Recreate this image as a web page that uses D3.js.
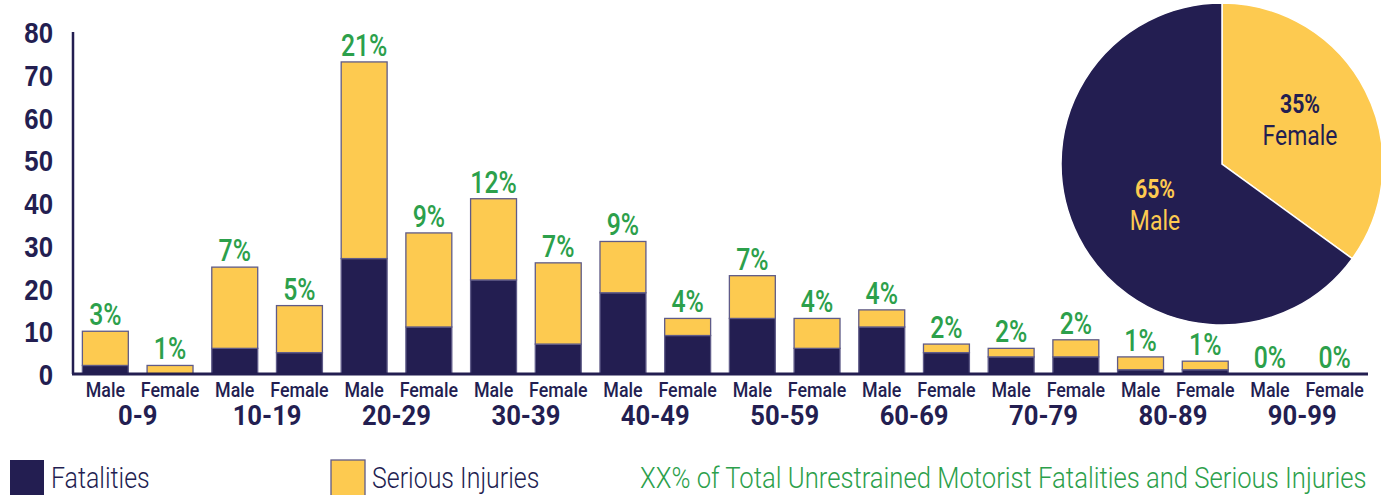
<!DOCTYPE html>
<html>
<head>
<meta charset="utf-8">
<script src="https://cdn.jsdelivr.net/npm/d3@7"></script>
<style>
  body { margin: 0; background: #fff; }
  svg { display: block; font-family: Roboto, "Noto Sans", sans-serif; }
</style>
</head>
<body>
<div id="chart"></div>
<script>
// data
let ageGroups = ["0-9", "10-19", "20-29", "30-39", "40-49", "50-59", "60-69", "70-79", "80-89", "90-99"];
let genders = ["Male", "Female"];
// one value per bar, order: Male 0-9, Female 0-9, Male 10-19, ...
let fatalities = [2, 0, 6, 5, 27, 11, 22, 7, 19, 9, 13, 6, 11, 5, 4, 4, 1, 1, 0, 0];
let seriousInjuries = [8, 2, 19, 11, 46, 22, 19, 19, 12, 4, 10, 7, 4, 2, 2, 4, 3, 2, 0, 0];
let shareLabels = ["3%", "1%", "7%", "5%", "21%", "9%", "12%", "7%", "9%", "4%", "7%", "4%", "4%", "2%", "2%", "2%", "1%", "1%", "0%", "0%"];
let yTicks = [0, 10, 20, 30, 40, 50, 60, 70, 80];
let pieShares = [35, 65];
let pieNames = ["Female", "Male"];

let navy = "#231e51",
    gold = "#fdca50",
    green = "#2ca04b",
    edge = "#5f5b88";

let W = 1381, H = 495;

let svg = d3.select("#chart")
    .append("svg")
    .attr("width", W)
    .attr("height", H);

// helper: narrow text (the original font is a condensed face)
function narrowText(g, x, y, txt, sx) {
    return g.append("text")
        .attr("transform", "translate(" + x + "," + y + ") scale(" + sx + ",1)")
        .text(txt);
}

// build rows for the bars
let rows = [];
ageGroups.forEach(function(a, i) {
    genders.forEach(function(s, j) {
        let k = i * 2 + j;
        rows.push({ key: a + "|" + s, age: a, sex: s, fatal: fatalities[k], serious: seriousInjuries[k], share: shareLabels[k] });
    });
});

// scales
let x = d3.scaleBand()
    .domain(rows.map(function(d) { return d.key; }))
    .range([73, 1367])
    .paddingInner(0.29)
    .paddingOuter(0.145);

let y = d3.scaleLinear()
    .domain([0, 80])
    .range([374, 32]);

// stacked bars
let stacked = d3.stack().keys(["fatal", "serious"])(rows);
let colours = { fatal: navy, serious: gold };

svg.append("g").selectAll("g")
    .data(stacked)
    .enter()
    .append("g")
    .attr("fill", function(s) { return colours[s.key]; })
    .selectAll("rect")
    .data(function(s) { return s.filter(function(d) { return d[1] > d[0]; }); })
    .enter()
    .append("rect")
    .attr("x", function(d) { return x(d.data.key); })
    .attr("y", function(d) { return y(d[1]); })
    .attr("width", x.bandwidth())
    .attr("height", function(d) { return y(d[0]) - y(d[1]); })
    .attr("stroke", edge)
    .attr("stroke-width", 1.3);

// Y axis (labels only, no ticks)
let yAxis = svg.append("g")
    .attr("transform", "translate(53,0)")
    .call(d3.axisLeft(y).tickValues(yTicks).tickSize(0).tickPadding(0));
yAxis.select(".domain").remove();
yAxis.selectAll("text").remove();
yAxis.selectAll(".tick").each(function(v) {
    narrowText(d3.select(this), 0, 10.5, v, 0.86)
        .attr("text-anchor", "end")
        .attr("fill", navy)
        .style("font-size", "30px")
        .style("font-weight", "bold");
});

// axis lines
svg.append("line")
    .attr("x1", 73).attr("x2", 73)
    .attr("y1", 32).attr("y2", y(0))
    .attr("stroke", navy).attr("stroke-width", 2.5);
svg.append("line")
    .attr("x1", 72).attr("x2", 1368)
    .attr("y1", y(0)).attr("y2", y(0))
    .attr("stroke", navy).attr("stroke-width", 3);

// percent labels over bars
let shareG = svg.append("g");
rows.forEach(function(d) {
    narrowText(shareG, x(d.key) + x.bandwidth() / 2, y(d.fatal + d.serious) - 6, d.share, 0.8)
        .attr("text-anchor", "middle")
        .attr("fill", green)
        .style("font-size", "31px")
        .style("font-weight", 500);
});

// sex labels and age group labels
let xl = svg.append("g");
rows.forEach(function(d) {
    narrowText(xl, x(d.key) + x.bandwidth() / 2, 397, d.sex, 0.85)
        .attr("text-anchor", "middle")
        .attr("fill", navy)
        .style("font-size", "21px")
        .style("font-weight", 500);
});
ageGroups.forEach(function(a) {
    let cx = (x(a + "|Male") + x(a + "|Female") + x.bandwidth()) / 2;
    narrowText(xl, cx, 425, a, 0.95)
        .attr("text-anchor", "middle")
        .attr("fill", navy)
        .style("font-size", "27px")
        .style("font-weight", "bold");
});

// legend
let lg = svg.append("g");
lg.append("rect").attr("x", 10).attr("y", 460).attr("width", 34).attr("height", 40)
    .attr("fill", navy);
narrowText(lg, 51, 488, "Fatalities", 0.86)
    .attr("fill", navy).style("font-size", "29px").style("font-weight", 300);
lg.append("rect").attr("x", 331).attr("y", 460).attr("width", 34).attr("height", 40)
    .attr("fill", gold).attr("stroke", edge).attr("stroke-width", 1.3);
narrowText(lg, 372, 488, "Serious Injuries", 0.86)
    .attr("fill", navy).style("font-size", "29px").style("font-weight", 300);
narrowText(lg, 640, 488, "XX% of Total Unrestrained Motorist Fatalities and Serious Injuries", 0.885)
    .attr("fill", green).style("font-size", "29px").style("font-weight", 300);

// pie: share by sex
let pieData = d3.pie().sort(null)(pieShares);
let arc = d3.arc().innerRadius(0).outerRadius(161);
let pg = svg.append("g").attr("transform", "translate(1222,164)");
pg.selectAll("path")
    .data(pieData)
    .enter()
    .append("path")
    .attr("d", arc)
    .attr("fill", function(d, i) { return i === 0 ? gold : navy; })
    .attr("stroke", "#fff")
    .attr("stroke-width", 1.5);

let labelPos = [[78, -51], [-67, 34]];
pieData.forEach(function(d, i) {
    let c = i === 0 ? navy : gold;
    narrowText(pg, labelPos[i][0], labelPos[i][1], pieShares[i] + "%", 0.85)
        .attr("text-anchor", "middle")
        .attr("fill", c)
        .style("font-size", "25px")
        .style("font-weight", "bold");
    narrowText(pg, labelPos[i][0], labelPos[i][1] + 32, pieNames[i], 0.85)
        .attr("text-anchor", "middle")
        .attr("fill", c)
        .style("font-size", "27px");
});
</script>
</body>
</html>
